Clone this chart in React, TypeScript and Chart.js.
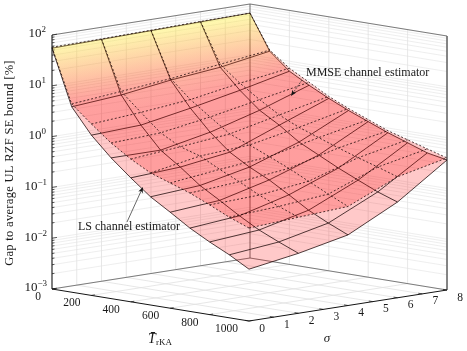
import React, { useEffect, useRef } from "react";
import { Chart, registerables } from "chart.js";

Chart.register(...registerables);

const W = 467;
const H = 351;

// Data (z values are log10 of the gap in %)
const tValues = [0, 100, 200, 300, 400, 500, 600, 700, 800, 900, 1000];
const sigmaValues = [0, 2, 4, 6, 8];

const lsSigma0 = [1.74, 0.65, 0.155, -0.23, -0.56, -0.87, -1.11, -1.36, -1.57, -1.76, -1.98];
const lsSigma2 = [1.76, 0.73, 0.2, -0.23, -0.5, -0.8, -1.03, -1.27, -1.487, -1.66, -1.82];
const lsSigma4 = [1.78, 0.87, 0.38, -0.03, -0.36, -0.59, -0.78, -1.01, -1.25, -1.44, -1.61];
const lsSigma6 = [1.8, 0.97, 0.58, 0.25, 0.02, -0.25, -0.443, -0.636, -0.81, -0.98, -1.116];
const lsSigma8 = [1.82, 1.134, 0.803, 0.589, 0.394, 0.219, 0.063, -0.093, -0.228, -0.364, -0.441];

const mmseSigma0 = [1.76, 0.705, 0.374, 0.063, -0.19, -0.4, -0.535, -0.67, -0.84, -1.02, -1.17];
const mmseSigma2 = [1.77, 0.8, 0.45, 0.11, -0.1, -0.22, -0.42, -0.6, -0.8, -0.96, -1.11];
const mmseSigma4 = [1.79, 0.9, 0.55, 0.27, 0.0, -0.155, -0.32, -0.49, -0.68, -0.87, -1.05];
const mmseSigma6 = [1.81, 1.03, 0.72, 0.46, 0.22, 0.04, -0.1, -0.24, -0.37, -0.49, -0.62];
const mmseSigma8 = [1.82, 1.156, 0.862, 0.648, 0.433, 0.258, 0.102, -0.053, -0.169, -0.285, -0.4];

const lsSurface = [lsSigma0, lsSigma2, lsSigma4, lsSigma6, lsSigma8];
const mmseSurface = [mmseSigma0, mmseSigma2, mmseSigma4, mmseSigma6, mmseSigma8];

const tTicks = [0, 200, 400, 600, 800, 1000];
const sigmaTicks = [0, 1, 2, 3, 4, 5, 6, 7, 8];
const zDecades = [-3, -2, -1, 0, 1, 2];
const zMinor = [2, 3, 4, 5, 6, 7, 8, 9];

const zTitle = "Gap to average UL RZF SE bound [%]";
const mmseLabel = "MMSE channel estimator";
const lsLabel = "LS channel estimator";

const FONT = '"Liberation Serif", serif';

function project(T: number, sigma: number, z: number) {
  const t = T / 1000;
  const s = sigma / 8;
  return {
    x: 52 + 197 * t + 198 * s,
    y: 289 + 32 * t - 31 * s - (z + 3) * 50.8,
  };
}

function cmap(z: number) {
  const f = Math.max(0, Math.min(1, (z - 0.7) / 1.15));
  return `rgba(255,${Math.round(255 * f)},${Math.round(45 * f)},0.21)`;
}

type Pt = { x: number; y: number };
const line = (data: Pt[], color: string, width: number, extra: object = {}) => ({
  type: "scatter",
  data,
  showLine: true,
  fill: false,
  borderColor: color,
  borderWidth: width,
  pointRadius: 0,
  tension: 0,
  ...extra,
});

function buildDatasets(ctx: CanvasRenderingContext2D) {
  const ds: any[] = [];
  const wallGrid = "rgba(215,215,215,0.6)";
  const gridMajor = "rgb(225,225,225)";
  const boxLine = "rgb(110,110,110)";

  const zLines: number[] = [];
  zDecades.forEach((d) => {
    zLines.push(d);
    if (d < 2) zMinor.forEach((m) => zLines.push(d + Math.log10(m)));
  });
  zLines.forEach((z) => {
    ds.push(line([project(0, 0, z), project(0, 8, z)], wallGrid, 0.7));
    ds.push(line([project(0, 8, z), project(1000, 8, z)], wallGrid, 0.7));
  });
  sigmaTicks.slice(1, -1).forEach((s) => ds.push(line([project(0, s, -3), project(0, s, 2)], gridMajor, 0.8)));
  tTicks.slice(1, -1).forEach((T) => ds.push(line([project(T, 8, -3), project(T, 8, 2)], gridMajor, 0.8)));
  tTicks.slice(1, -1).forEach((T) => ds.push(line([project(T, 0, -3), project(T, 8, -3)], gridMajor, 0.8)));
  sigmaTicks.slice(1, -1).forEach((s) => ds.push(line([project(0, s, -3), project(1000, s, -3)], gridMajor, 0.8)));
  ds.push(line([project(0, 0, 2), project(0, 8, 2), project(1000, 8, 2), project(1000, 8, -3), project(0, 8, -3), project(0, 0, -3)], boxLine, 0.9));
  ds.push(line([project(0, 8, -3), project(0, 8, 2)], "rgb(90,90,90)", 0.9));

  const surface = (zs: number[][], dash: number[]) => {
    for (let j = 0; j < sigmaValues.length - 1; j++) {
      for (let k = 0; k < tValues.length - 1; k++) {
        const a = project(tValues[k], sigmaValues[j], zs[j][k]);
        const b = project(tValues[k], sigmaValues[j + 1], zs[j + 1][k]);
        const c = project(tValues[k + 1], sigmaValues[j + 1], zs[j + 1][k + 1]);
        const d = project(tValues[k + 1], sigmaValues[j], zs[j][k + 1]);
        const m1 = { x: (a.x + b.x) / 2, y: (a.y + b.y) / 2 };
        const m2 = { x: (c.x + d.x) / 2, y: (c.y + d.y) / 2 };
        const ex = b.x - a.x;
        const ey = b.y - a.y;
        const el = Math.hypot(ex, ey);
        const nx = -ey / el;
        const ny = ex / el;
        const proj = (m2.x - m1.x) * nx + (m2.y - m1.y) * ny;
        const g = ctx.createLinearGradient(m1.x, m1.y, m1.x + nx * proj, m1.y + ny * proj);
        g.addColorStop(0, cmap((zs[j][k] + zs[j + 1][k]) / 2));
        g.addColorStop(1, cmap((zs[j][k + 1] + zs[j + 1][k + 1]) / 2));
        ds.push({
          type: "scatter",
          data: [a, b, c, d, a],
          showLine: true,
          fill: "shape",
          backgroundColor: g,
          borderWidth: 0,
          borderColor: "rgba(0,0,0,0)",
          pointRadius: 0,
          tension: 0,
        });
      }
    }
    const meshColor = "rgba(20,0,0,0.88)";
    sigmaValues.forEach((s, j) => {
      ds.push(line(tValues.map((T, k) => project(T, s, zs[j][k])), meshColor, 0.85, { borderDash: dash }));
    });
    tValues.forEach((T, k) => {
      ds.push(line(sigmaValues.map((s, j) => project(T, s, zs[j][k])), meshColor, 0.85, { borderDash: dash }));
    });
  };
  surface(lsSurface, []);
  surface(mmseSurface, [2, 2]);

  const axis = "rgb(20,20,20)";
  ds.push(line([project(0, 0, 2), project(0, 0, -3)], axis, 1.1));
  ds.push(line([project(0, 0, -3), project(1000, 0, -3), project(1000, 8, -3)], axis, 1.0));
  zLines.forEach((z) => {
    const major = Math.abs(z - Math.round(z)) < 1e-6;
    ds.push(line([project(0, 0, z), project(0, major ? 0.2 : 0.1, z)], axis, 0.7));
  });
  tTicks.forEach((T) => ds.push(line([project(T, 0, -3), project(T, 0.14, -3)], axis, 0.7)));
  sigmaTicks.forEach((s) => ds.push(line([project(1000, s, -3), project(980, s, -3)], axis, 0.7)));

  ds.push(line([{ x: 302, y: 80 }, { x: 293, y: 93 }], "rgb(40,40,40)", 0.7, { borderDash: [2, 1] }));
  ds.push(line([{ x: 127, y: 222 }, { x: 142, y: 189 }], "rgb(40,40,40)", 0.7));
  return ds;
}

const arrowHead = (ctx: CanvasRenderingContext2D, x: number, y: number, fx: number, fy: number) => {
  const a = Math.atan2(y - fy, x - fx);
  ctx.save();
  ctx.translate(x, y);
  ctx.rotate(a);
  ctx.fillStyle = "rgb(20,20,20)";
  ctx.beginPath();
  ctx.moveTo(0, 0);
  ctx.lineTo(-6, -2.4);
  ctx.lineTo(-4.5, 0);
  ctx.lineTo(-6, 2.4);
  ctx.closePath();
  ctx.fill();
  ctx.restore();
};

const textPlugin = {
  id: "labels3d",
  afterDraw(chart: any) {
    const ctx: CanvasRenderingContext2D = chart.ctx;
    const ink = "rgb(25,25,25)";
    ctx.save();
    ctx.fillStyle = ink;
    ctx.textBaseline = "middle";

    arrowHead(ctx, 291, 96, 302, 80);
    arrowHead(ctx, 143, 187, 127, 222);
    ctx.fillStyle = ink;

    zDecades.forEach((d) => {
      const p = project(0, 0, d);
      const sup = d < 0 ? `\u2212${-d}` : `${d}`;
      ctx.font = `9px ${FONT}`;
      const sw = ctx.measureText(sup).width;
      ctx.textAlign = "right";
      const right = d < 0 ? 47 : 46;
      ctx.fillText(sup, right, p.y - 5);
      ctx.font = `13px ${FONT}`;
      ctx.fillText("10", right - sw, p.y - 1);
    });

    ctx.font = `11.5px ${FONT}`;
    ctx.textAlign = "right";
    tTicks.forEach((T) => {
      const p = project(T, 0, -3);
      ctx.fillText(String(T), p.x - 11, p.y + 8);
    });
    ctx.textAlign = "center";
    sigmaTicks.forEach((s) => {
      const p = project(1000, s, -3);
      ctx.fillText(String(s), p.x + 13, p.y + 7.5);
    });

    ctx.font = `italic 14px ${FONT}`;
    ctx.textAlign = "left";
    ctx.fillText("T\u0304", 148, 339);
    ctx.font = `9px ${FONT}`;
    ctx.fillText("rKA", 156, 343);
    ctx.font = `italic 13px ${FONT}`;
    ctx.textAlign = "center";
    ctx.fillText("\u03C3", 327, 339);

    ctx.font = `12px ${FONT}`;
    ctx.textAlign = "left";
    ctx.fillText(mmseLabel, 306, 73);
    ctx.fillText(lsLabel, 78, 227);

    ctx.save();
    ctx.translate(10, 163);
    ctx.rotate(-Math.PI / 2);
    ctx.textAlign = "center";
    ctx.font = `12.5px ${FONT}`;
    (ctx as any).letterSpacing = "0.3px";
    ctx.fillText(zTitle, 0, 0);
    ctx.restore();
    ctx.restore();
  },
};

export default function App() {
  const ref = useRef<HTMLCanvasElement | null>(null);
  useEffect(() => {
    const canvas = ref.current!;
    const ctx = canvas.getContext("2d")!;
    const datasets = buildDatasets(ctx).reverse();
    const chart = new Chart(ctx, {
      type: "scatter",
      data: { datasets },
      plugins: [textPlugin],
      options: {
        animation: false,
        responsive: false,
        devicePixelRatio: 1,
        layout: { padding: 0 },
        plugins: { legend: { display: false }, tooltip: { enabled: false }, title: { display: false } },
        scales: {
          x: { type: "linear", min: 0, max: W, display: false },
          y: { type: "linear", min: 0, max: H, reverse: true, display: false },
        },
      },
    } as any);
    return () => chart.destroy();
  }, []);
  return (
    <div style={{ position: "fixed", left: 0, top: 0, width: W, height: H, background: "#fff" }}>
      <canvas ref={ref} width={W} height={H} style={{ display: "block" }} />
    </div>
  );
}
